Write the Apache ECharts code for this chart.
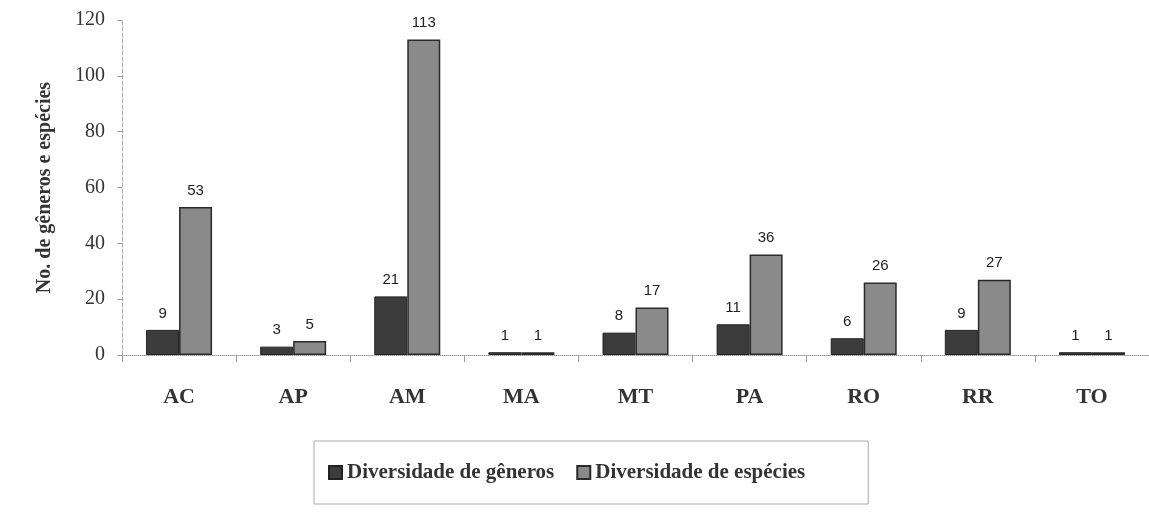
<!DOCTYPE html>
<html>
<head>
<meta charset="utf-8">
<script src="https://cdn.jsdelivr.net/npm/echarts@6/dist/echarts.min.js"></script>
<style>
  html, body { margin: 0; padding: 0; background: #fff; }
  #main { width: 1149px; height: 519px; }
</style>
</head>
<body>
<div id="main"></div>
<script>
const states = ['AC', 'AP', 'AM', 'MA', 'MT', 'PA', 'RO', 'RR', 'TO'];
const generos = [9, 3, 21, 1, 8, 11, 6, 9, 1];
const especies = [53, 5, 113, 1, 17, 36, 26, 27, 1];
const yTicks = [0, 20, 40, 60, 80, 100, 120];

const chart = echarts.init(document.getElementById('main'));

const labelStyle = {
    show: true,
    position: 'top',
    distance: 9,
    fontFamily: 'Liberation Sans',
    fontSize: 15,
    color: '#222'
};

const option = {
    backgroundColor: '#fff',
    animation: false,
    grid: {
        left: 122,
        top: 20,
        width: 1030,
        height: 335
    },
    legend: {
        left: 314,
        top: 441,
        padding: [21, 63, 21, 14],
        borderColor: '#aaa',
        borderWidth: 1,
        icon: 'rect',
        itemWidth: 13,
        itemHeight: 13,
        itemGap: 22,
        textStyle: {
            fontFamily: 'Liberation Serif',
            fontWeight: 'bold',
            fontSize: 21,
            color: '#333'
        },
        data: ['Diversidade de gêneros', 'Diversidade de espécies']
    },
    xAxis: {
        type: 'category',
        data: states,
        axisLine: {
            lineStyle: {color: '#999', type: 'dotted'}
        },
        axisTick: {
            show: true,
            length: 7,
            lineStyle: {color: '#999'}
        },
        axisLabel: {
            margin: 31,
            fontFamily: 'Liberation Serif',
            fontWeight: 'bold',
            fontSize: 22,
            color: '#333'
        }
    },
    yAxis: {
        type: 'value',
        min: yTicks[0],
        max: yTicks[yTicks.length - 1],
        interval: yTicks[1] - yTicks[0],
        name: 'No. de gêneros e espécies',
        nameLocation: 'middle',
        nameRotate: 90,
        nameGap: 67,
        nameTextStyle: {
            fontFamily: 'Liberation Serif',
            fontWeight: 'bold',
            fontSize: 20,
            color: '#333'
        },
        axisLine: {
            show: true,
            lineStyle: {color: '#aaa', type: 'dashed'}
        },
        axisTick: {
            show: true,
            length: 5,
            lineStyle: {color: '#999'}
        },
        splitLine: {show: false},
        axisLabel: {
            margin: 17,
            fontFamily: 'Liberation Serif',
            fontSize: 20,
            color: '#333'
        }
    },
    series: [
        {
            name: 'Diversidade de gêneros',
            type: 'bar',
            data: generos,
            barWidth: 33,
            barGap: '0%',
            itemStyle: {
                color: '#3c3c3c',
                borderColor: '#222',
                borderWidth: 1
            },
            label: labelStyle
        },
        {
            name: 'Diversidade de espécies',
            type: 'bar',
            data: especies,
            barWidth: 33,
            barGap: '0%',
            itemStyle: {
                color: '#8a8a8a',
                borderColor: '#2a2a2a',
                borderWidth: 1.5
            },
            label: labelStyle
        }
    ]
};

chart.setOption(option);
</script>
</body>
</html>
